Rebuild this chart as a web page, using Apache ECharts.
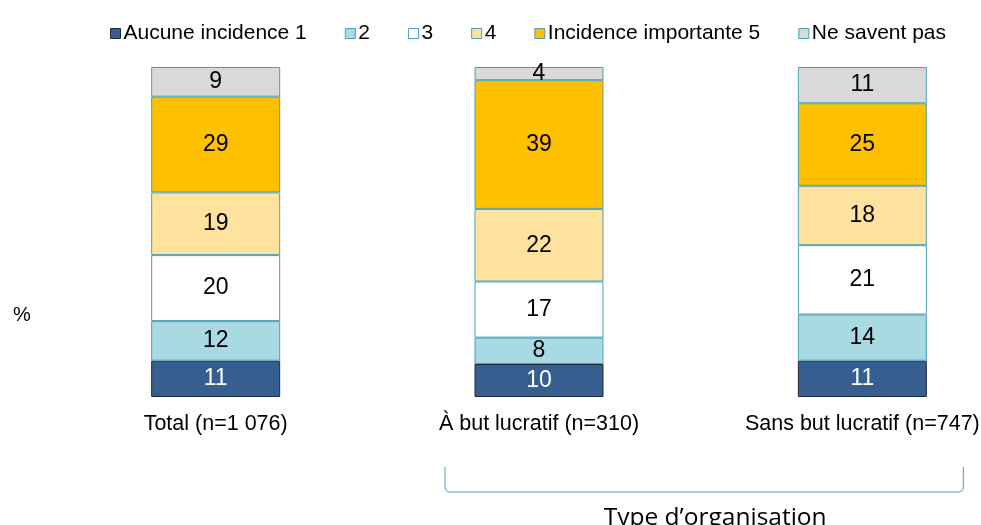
<!DOCTYPE html>
<html>
<head>
<meta charset="utf-8">
<script src="https://cdn.jsdelivr.net/npm/echarts@6/dist/echarts.min.js"></script>
<style>
  html, body { margin: 0; padding: 0; background: #fff; }
  #chart { width: 981px; height: 525px; }
</style>
</head>
<body>
<div id="chart"></div>
<script>
// Categories and response shares (%)
const categories = ['Total (n=1 076)', 'À but lucratif (n=310)', 'Sans but lucratif (n=747)'];
const seriesNames = ['Aucune incidence 1', '2', '3', '4', 'Incidence importante 5', 'Ne savent pas'];
const aucune1 = [11, 10, 11];
const niveau2 = [12, 8, 14];
const niveau3 = [20, 17, 21];
const niveau4 = [19, 22, 18];
const importante5 = [29, 39, 25];
const neSaventPas = [9, 4, 11];
const groupTitle = 'Type d\u2019organisation';

const values = [aucune1, niveau2, niveau3, niveau4, importante5, neSaventPas];
const fills = ['#365F8F', '#A9D9E2', '#FFFFFF', '#FFE29E', '#FFC000', '#D9D9D9'];
const borders = ['#1F2A36', '#4BA0B5', '#4BA0B5', '#4BA0B5', '#4BA0B5', '#4BA0B5'];
const labelColors = ['#FFFFFF', '#000', '#000', '#000', '#000', '#000'];
const FONT = '"Liberation Sans", Arial, sans-serif';

const chart = echarts.init(document.getElementById('chart'));

const series = seriesNames.map((name, i) => ({
  name: name,
  type: 'bar',
  stack: 'total',
  barWidth: 129,
  data: values[i],
  itemStyle: { color: fills[i], borderColor: borders[i], borderWidth: 1 },
  label: {
    show: true,
    position: 'inside',
    color: labelColors[i],
    fontFamily: FONT,
    fontSize: 23
  },
  emphasis: { disabled: true }
}));

chart.setOption({
  animation: false,
  backgroundColor: '#fff',
  legend: {
    top: 18,
    left: 105,
    itemWidth: 10,
    itemHeight: 10,
    itemGap: 38,
    icon: 'rect',
    textStyle: { fontFamily: FONT, fontSize: 21, color: '#000', padding: [0, 0, 0, -2] },
    data: seriesNames.map((n, i) => ({
      name: n,
      itemStyle: { color: fills[i], borderColor: borders[i], borderWidth: 1 }
    }))
  },
  grid: { left: 54, right: -43, top: 67, bottom: 128, outerBoundsMode: 'none' },
  xAxis: {
    type: 'category',
    data: categories,
    axisLine: { show: false },
    axisTick: { show: false },
    axisLabel: { color: '#000', fontFamily: FONT, fontSize: 21.5, margin: 16 }
  },
  yAxis: {
    type: 'value',
    min: 0,
    max: 100,
    show: false
  },
  series: series
});

// Decorations: "%" unit and the bracket grouping the organisation types
const c1 = chart.convertToPixel({ xAxisIndex: 0 }, categories[1]);
const c2 = chart.convertToPixel({ xAxisIndex: 0 }, categories[2]);
const bl = c1 - 94, br = c2 + 101, bt = 467, bb = 492;
chart.setOption({
  graphic: [
    {
      type: 'text', left: 13, top: 305,
      style: { text: '%', font: '20px "Liberation Sans", Arial, sans-serif', fill: '#000' }
    },
    {
      type: 'polyline',
      shape: {
        points: [
          [bl, bt], [bl, bb - 4], [bl + 1, bb - 1.5], [bl + 4, bb],
          [br - 4, bb], [br - 1, bb - 1.5], [br, bb - 4], [br, bt]
        ]
      },
      style: { stroke: '#4BA0B5', lineWidth: 1, fill: null }
    },
    {
      type: 'text',
      x: (bl + br) / 2 + 11, y: 518,
      style: {
        text: groupTitle,
        font: '24.5px "Open Sans", "Noto Sans", sans-serif',
        fill: '#000',
        align: 'center',
        verticalAlign: 'middle'
      }
    }
  ]
});
</script>
</body>
</html>
